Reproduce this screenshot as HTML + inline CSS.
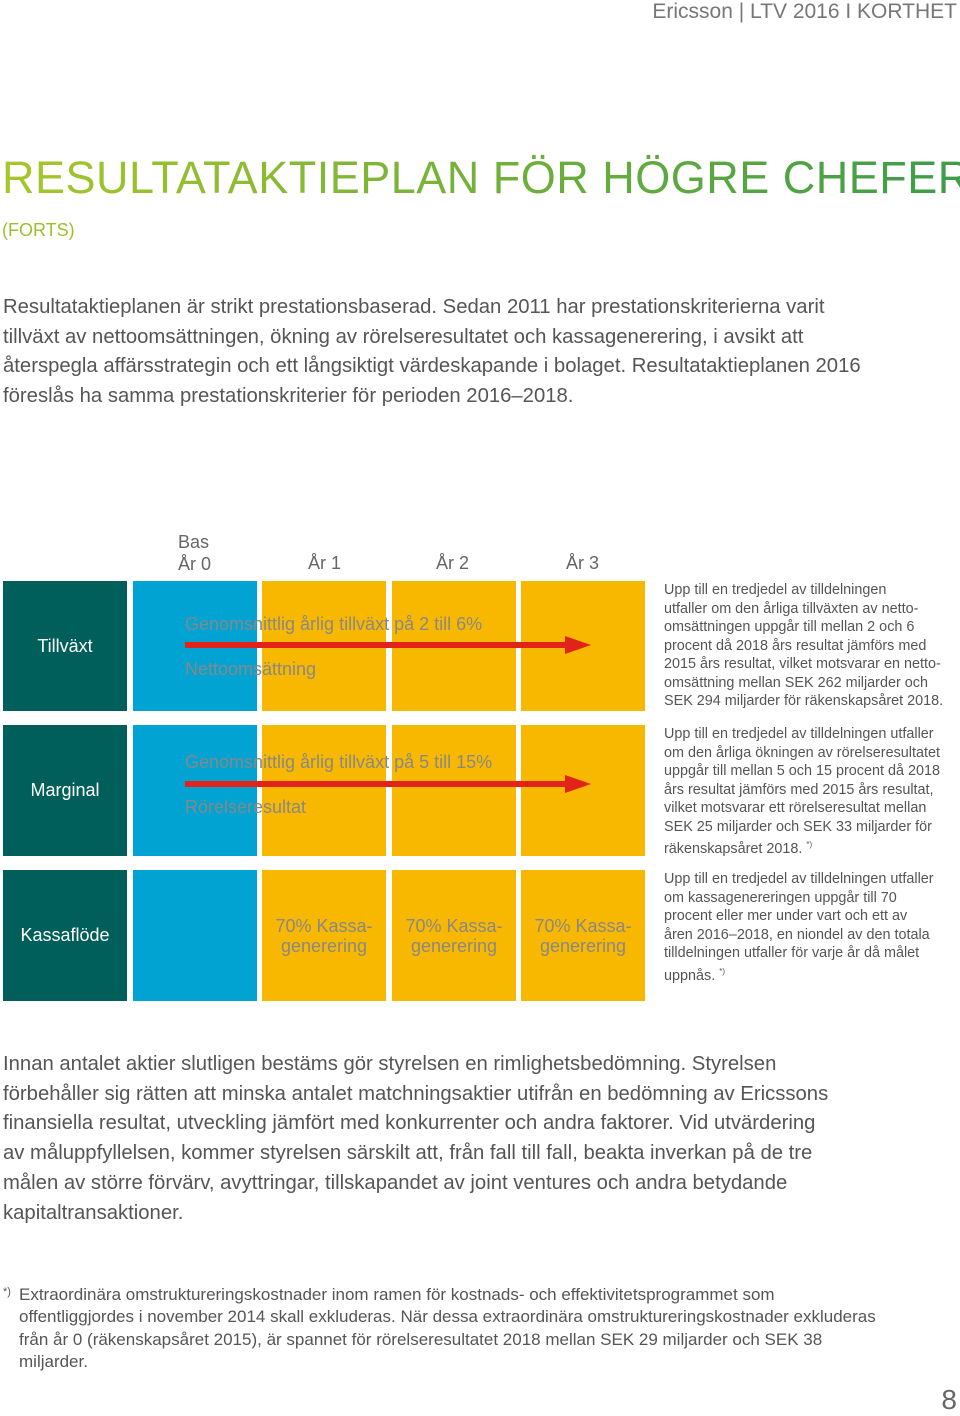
<!DOCTYPE html>
<html><head><meta charset="utf-8"><style>
body{margin:0;width:960px;height:1414px;background:#fff;font-family:"Liberation Sans",sans-serif;color:#555;position:relative;overflow:hidden}
div,span{position:absolute}
.p{left:3px;font-size:20.3px;line-height:29.7px;color:#555;white-space:nowrap}
.cell{display:flex;align-items:center;justify-content:center;text-align:center}
.t{background:#005f5a;color:#fff;font-size:18px;left:3px;width:124px}
.b{background:#00a3d1;left:133px;width:124px}
.y{background:#f9b800}
.side{left:664px;font-size:14.4px;line-height:18.5px;color:#555;white-space:nowrap}
.g{color:#888;font-size:18px;white-space:nowrap}
.hd{font-size:18px;color:#666}
</style></head><body>
<div style="right:3px;top:0;font-size:21px;color:#777">Ericsson | LTV 2016 I KORTHET</div>
<div style="left:2px;top:152px;font-size:45px;letter-spacing:0.5px;background:linear-gradient(90deg,#a8c62a,#3d9b4a);-webkit-background-clip:text;background-clip:text;color:transparent;white-space:nowrap">RESULTATAKTIEPLAN FÖR HÖGRE CHEFER</div>
<div style="left:2px;top:220px;font-size:18px;color:#9cbf2e">(FORTS)</div>
<div class="p" style="top:293px">Resultataktieplanen är strikt prestationsbaserad. Sedan 2011 har prestationskriterierna varit<br>tillväxt av nettoomsättningen, ökning av rörelseresultatet och kassagenerering, i avsikt att<br>återspegla affärsstrategin och ett långsiktigt värdeskapande i bolaget. Resultataktieplanen 2016<br>föreslås ha samma prestationskriterier för perioden 2016–2018.</div>

<div class="hd" style="left:178px;top:531px;line-height:22px">Bas<br>År 0</div>
<div class="hd" style="left:308px;top:553px">År 1</div>
<div class="hd" style="left:436px;top:553px">År 2</div>
<div class="hd" style="left:566px;top:553px">År 3</div>

<!-- row 1 -->
<div class="cell t" style="top:581px;height:130px">Tillväxt</div>
<div class="b" style="top:581px;height:130px"></div>
<div class="y" style="left:262px;width:383px;top:581px;height:130px;background:linear-gradient(90deg,#f9b800 124px,#fff 124px,#fff 130px,#f9b800 130px,#f9b800 254px,#fff 254px,#fff 259px,#f9b800 259px)"></div>
<div class="g" style="left:185px;top:614px">Genomsnittlig årlig tillväxt på 2 till 6%</div>
<div class="g" style="left:185px;top:659px">Nettoomsättning</div>
<div style="left:185px;top:642px;width:382px;height:6px;background:#e2231a"></div>
<div style="left:565px;top:636px;width:0;height:0;border-top:9px solid transparent;border-bottom:9px solid transparent;border-left:26px solid #e2231a"></div>
<div class="side" style="top:581px">Upp till en tredjedel av tilldelningen<br>utfaller om den årliga tillväxten av netto-<br>omsättningen uppgår till mellan 2 och 6<br>procent då 2018 års resultat jämförs med<br>2015 års resultat, vilket motsvarar en netto-<br>omsättning mellan SEK 262 miljarder och<br>SEK 294 miljarder för räkenskapsåret 2018.</div>

<!-- row 2 -->
<div class="cell t" style="top:725px;height:131px">Marginal</div>
<div class="b" style="top:725px;height:131px"></div>
<div class="y" style="left:262px;width:383px;top:725px;height:131px;background:linear-gradient(90deg,#f9b800 124px,#fff 124px,#fff 130px,#f9b800 130px,#f9b800 254px,#fff 254px,#fff 259px,#f9b800 259px)"></div>
<div class="g" style="left:185px;top:752px">Genomsnittlig årlig tillväxt på 5 till 15%</div>
<div class="g" style="left:185px;top:797px">Rörelseresultat</div>
<div style="left:185px;top:781px;width:382px;height:6px;background:#e2231a"></div>
<div style="left:565px;top:775px;width:0;height:0;border-top:9px solid transparent;border-bottom:9px solid transparent;border-left:26px solid #e2231a"></div>
<div class="side" style="top:725px">Upp till en tredjedel av tilldelningen utfaller<br>om den årliga ökningen av rörelseresultatet<br>uppgår till mellan 5 och 15 procent då 2018<br>års resultat jämförs med 2015 års resultat,<br>vilket motsvarar ett rörelseresultat mellan<br>SEK 25 miljarder och SEK 33 miljarder för<br>räkenskapsåret 2018. <sup style="font-size:8px">*)</sup></div>

<!-- row 3 -->
<div class="cell t" style="top:870px;height:131px">Kassaflöde</div>
<div class="b" style="top:870px;height:131px"></div>
<div class="cell y g" style="left:262px;width:124px;top:870px;height:131px;line-height:20px">70% Kassa-<br>generering</div>
<div class="cell y g" style="left:392px;width:124px;top:870px;height:131px;line-height:20px">70% Kassa-<br>generering</div>
<div class="cell y g" style="left:521px;width:124px;top:870px;height:131px;line-height:20px">70% Kassa-<br>generering</div>
<div class="side" style="top:870px">Upp till en tredjedel av tilldelningen utfaller<br>om kassagenereringen uppgår till 70<br>procent eller mer under vart och ett av<br>åren 2016–2018, en niondel av den totala<br>tilldelningen utfaller för varje år då målet<br>uppnås. <sup style="font-size:8px">*)</sup></div>

<div class="p" style="top:1050px">Innan antalet aktier slutligen bestäms gör styrelsen en rimlighetsbedömning. Styrelsen<br>förbehåller sig rätten att minska antalet matchningsaktier utifrån en bedömning av Ericssons<br>finansiella resultat, utveckling jämfört med konkurrenter och andra faktorer. Vid utvärdering<br>av måluppfyllelsen, kommer styrelsen särskilt att, från fall till fall, beakta inverkan på de tre<br>målen av större förvärv, avyttringar, tillskapandet av joint ventures och andra betydande<br>kapitaltransaktioner.</div>

<div style="left:3px;top:1286px;font-size:11px">*)</div>
<div style="left:19px;top:1284px;font-size:17px;line-height:22.3px;white-space:nowrap">Extraordinära omstruktureringskostnader inom ramen för kostnads- och effektivitetsprogrammet som<br>offentliggjordes i november 2014 skall exkluderas. När dessa extraordinära omstruktureringskostnader exkluderas<br>från år 0 (räkenskapsåret 2015), är spannet för rörelseresultatet 2018 mellan SEK 29 miljarder och SEK 38<br>miljarder.</div>
<div style="right:3px;top:1384px;font-size:28px;color:#666">8</div>
</body></html>
